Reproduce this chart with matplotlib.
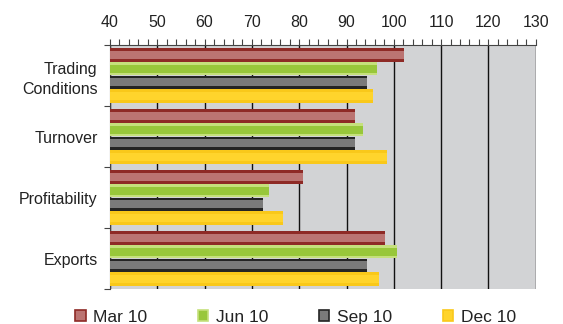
import numpy as np
import matplotlib.pyplot as plt
from matplotlib.patches import Patch

plt.rcParams['font.family'] = ['Liberation Sans', 'DejaVu Sans']

# Data
categories = ['Trading\nConditions', 'Turnover', 'Profitability', 'Exports']
series = ['Mar 10', 'Jun 10', 'Sep 10', 'Dec 10']
mar10 = [102.2, 91.9, 80.7, 98.1]
jun10 = [96.4, 93.5, 73.6, 100.7]
sep10 = [94.3, 91.8, 72.3, 94.3]
dec10 = [95.7, 98.6, 76.6, 96.9]
values = [mar10, jun10, sep10, dec10]

# (outer, inner) colours to fake the banded gradient
colours = [('#8e2a26', '#bb7472'),
           ('#c5e07c', '#98c73a'),
           ('#242424', '#7a7a7a'),
           ('#f9c81a', '#ffd42c')]

fig = plt.figure(figsize=(5.63, 3.24), dpi=100)
ax = fig.add_axes([0.1954, 0.108, 0.7561, 0.753])
ax.set_facecolor('#d2d3d5')

n = len(categories)
y = np.arange(n)
slot = 0.226
height = 0.222
base = 40
for j, vals in enumerate(values):
    pos = y - 1.5 * slot + j * slot
    w = np.array(vals) - base
    outer, inner = colours[j]
    ax.barh(pos, w, left=base, height=height, color=outer, linewidth=0, zorder=3)
    ax.barh(pos, w, left=base, height=height * 0.6, color=inner, linewidth=0, zorder=4)

ax.set_xlim(40, 130)
ax.set_ylim(n - 0.5, -0.5)

# axis on top
ax.xaxis.tick_top()
ax.set_xticks(np.arange(40, 131, 10))
ax.set_xticks(np.arange(40, 131, 2), minor=True)
ax.tick_params(axis='x', which='both', length=4, width=0.8, color='#444444',
               labelsize=11.5, pad=7, direction='out', labelcolor='#222222')
ax.xaxis.grid(True, which='major', color='#111111', linewidth=1.0, zorder=2)
ax.set_axisbelow(True)

ax.set_yticks(y)
ax.set_yticklabels(categories, fontsize=11.5, color='#222222', linespacing=1.4)
ax.set_yticks(np.arange(-0.5, n, 1), minor=True)
ax.tick_params(axis='y', which='major', length=0, pad=9)
ax.tick_params(axis='y', which='minor', length=4, width=0.8, color='#444444')

for s in ['bottom', 'right']:
    ax.spines[s].set_visible(False)
ax.spines['left'].set_color('#444444')
ax.spines['top'].set_color('#444444')
ax.spines['left'].set_linewidth(0.8)
ax.spines['top'].set_linewidth(0.8)

handles = [Patch(facecolor=c[1], edgecolor=c[0], linewidth=1.2) for c in colours]
fig.legend(handles, series, loc='lower center', bbox_to_anchor=(0.525, -0.05),
           ncol=4, frameon=False, fontsize=12.5, handlelength=0.6, handleheight=0.6,
           handletextpad=0.45, columnspacing=2.9, labelcolor='#222222')

fig.savefig('out.png', dpi=100)
